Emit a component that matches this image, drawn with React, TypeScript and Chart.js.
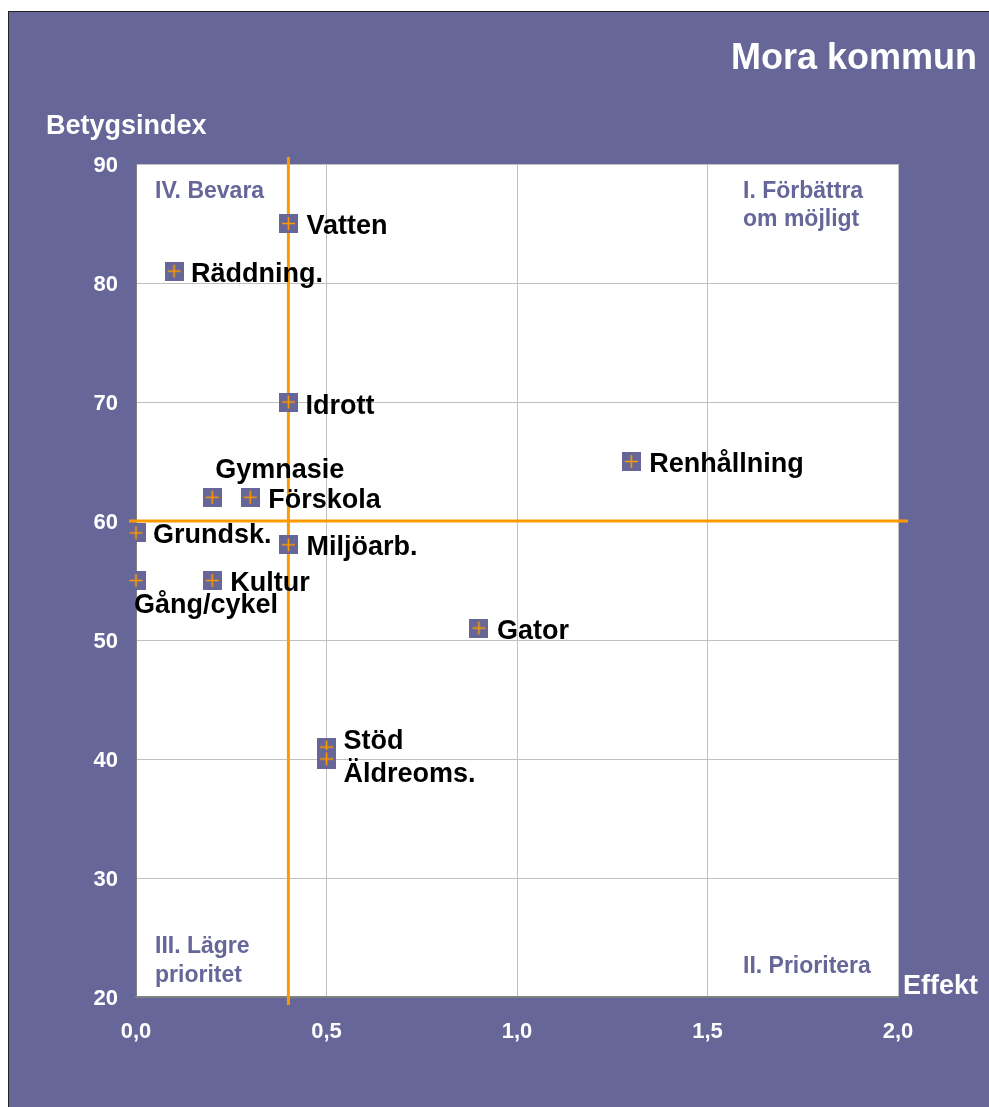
import React, { useEffect, useRef } from "react";
import { Chart, registerables } from "chart.js";

Chart.register(...registerables);

// ---- Data ----
const serviceLabels = [
  "Vatten",
  "Räddning.",
  "Idrott",
  "Renhållning",
  "Gymnasie",
  "Förskola",
  "Grundsk.",
  "Miljöarb.",
  "Kultur",
  "Gång/cykel",
  "Gator",
  "Stöd",
  "Äldreoms.",
];
const effekt = [0.4, 0.1, 0.4, 1.3, 0.2, 0.3, 0.0, 0.4, 0.2, 0.0, 0.9, 0.5, 0.5];
const betygsindex = [85, 81, 70, 65, 62, 62, 59, 58, 55, 55, 51, 41, 40];

const xMin = 0;
const xMax = 2;
const xStep = 0.5;
const yMin = 20;
const yMax = 90;
const yStep = 10;

// quadrant divider lines (mean values)
const dividerEffekt = 0.4;
const dividerBetyg = 60;

const chartTitle = "Mora kommun";
const yAxisTitle = "Betygsindex";
const xAxisTitle = "Effekt";
const quadrantLabels = {
  q1: ["I. Förbättra", "om möjligt"],
  q2: ["II. Prioritera"],
  q3: ["III. Lägre", "prioritet"],
  q4: ["IV. Bevara"],
};

// label placement (px offsets of label start / cap-centre from the point)
const labelOffsets: [number, number][] = [
  [18, 0],
  [17, 0],
  [17, 1],
  [18, 0],
  [3, -30],
  [18, 0],
  [17, 0],
  [18, 0],
  [18, 0],
  [-2, 22],
  [18, 0],
  [17, -9],
  [17, 12],
];

const PURPLE = "#666699";
const ORANGE = "#FF9900";
const FONT = "Arial, 'Liberation Sans', Helvetica, sans-serif";

function makeMarker(): HTMLCanvasElement {
  const c = document.createElement("canvas");
  c.width = 19;
  c.height = 19;
  const g = c.getContext("2d")!;
  g.fillStyle = PURPLE;
  g.fillRect(0, 0, 19, 19);
  g.strokeStyle = ORANGE;
  g.lineWidth = 1.6;
  g.beginPath();
  g.moveTo(3, 9.5);
  g.lineTo(16, 9.5);
  g.moveTo(9.5, 3);
  g.lineTo(9.5, 16);
  g.stroke();
  return c;
}

export default function App() {
  const ref = useRef<HTMLCanvasElement>(null);

  useEffect(() => {
    if (!ref.current) return;
    const marker = makeMarker();

    const decorPlugin = {
      id: "decor",
      beforeDraw(chart: any) {
        const { ctx, chartArea: a } = chart;
        ctx.save();
        ctx.fillStyle = "#FFFFFF";
        ctx.fillRect(a.left, a.top, a.right - a.left, a.bottom - a.top);
        ctx.restore();
      },
      beforeDatasetsDraw(chart: any) {
        const { ctx, chartArea: a, scales } = chart;
        const px = scales.x.getPixelForValue(dividerEffekt);
        const py = scales.y.getPixelForValue(dividerBetyg);
        ctx.save();
        ctx.strokeStyle = ORANGE;
        ctx.lineWidth = 3;
        ctx.beginPath();
        ctx.moveTo(px, a.top - 7);
        ctx.lineTo(px, a.bottom + 8);
        ctx.moveTo(a.left - 7, py);
        ctx.lineTo(a.right + 10, py);
        ctx.stroke();

        // quadrant labels
        ctx.fillStyle = PURPLE;
        ctx.font = `bold 23px ${FONT}`;
        ctx.textAlign = "left";
        ctx.textBaseline = "alphabetic";
        ctx.fillText(quadrantLabels.q4[0], a.left + 19, a.top + 34);
        quadrantLabels.q1.forEach((t, i) => ctx.fillText(t, a.right - 155, a.top + 34 + i * 28));
        quadrantLabels.q3.forEach((t, i) => ctx.fillText(t, a.left + 19, a.bottom - 44 + i * 29));
        ctx.fillText(quadrantLabels.q2[0], a.right - 155, a.bottom - 24);
        ctx.restore();
      },
      afterDatasetsDraw(chart: any) {
        const { ctx, chartArea: a, width } = chart;
        const meta = chart.getDatasetMeta(0);
        ctx.save();
        ctx.fillStyle = "#000000";
        ctx.font = `bold 27px ${FONT}`;
        ctx.textAlign = "left";
        ctx.textBaseline = "alphabetic";
        meta.data.forEach((pt: any, i: number) => {
          const [dx, dy] = labelOffsets[i];
          ctx.fillText(serviceLabels[i], pt.x + dx, pt.y + dy + 10.5);
        });

        ctx.fillStyle = "#FFFFFF";
        ctx.font = `bold 36px ${FONT}`;
        ctx.textAlign = "right";
        ctx.fillText(chartTitle, width - 12, 57);

        ctx.font = `bold 27px ${FONT}`;
        ctx.textAlign = "left";
        ctx.fillText(yAxisTitle, a.left - 90, a.top - 30);

        ctx.font = `bold 27px ${FONT}`;
        ctx.fillText(xAxisTitle, a.right + 5, a.bottom - 3);
        ctx.restore();
      },
    };

    const chart = new Chart(ref.current, {
      type: "scatter",
      data: {
        datasets: [
          {
            label: "Tjänster",
            data: effekt.map((x, i) => ({ x, y: betygsindex[i] })),
            pointStyle: marker as any,
            pointRadius: 10,
            backgroundColor: PURPLE,
            borderColor: ORANGE,
            clip: false as any,
          },
        ],
      },
      options: {
        animation: false,
        responsive: false,
        devicePixelRatio: 1,
        layout: { padding: { top: 152, right: 91, bottom: 50, left: 0 } },
        plugins: {
          legend: { display: false },
          tooltip: { enabled: false },
        },
        scales: {
          x: {
            type: "linear",
            min: xMin,
            max: xMax,
            afterFit: (s: any) => {
              s.height = 60;
            },
            ticks: {
              stepSize: xStep,
              color: "#FFFFFF",
              font: { family: FONT, size: 22, weight: "bold" },
              padding: 22,
              callback: (v: any) => Number(v).toFixed(1).replace(".", ","),
            },
            grid: { color: "#C0C0C0", lineWidth: 1, drawTicks: false },
            border: { color: "#808080", width: 2 },
          },
          y: {
            type: "linear",
            min: yMin,
            max: yMax,
            afterFit: (s: any) => {
              s.width = 127;
            },
            ticks: {
              stepSize: yStep,
              color: "#FFFFFF",
              font: { family: FONT, size: 22, weight: "bold" },
              padding: 18,
              labelOffset: 2,
            },
            grid: { color: "#C0C0C0", lineWidth: 1, drawTicks: false },
            border: { color: "#808080", width: 1 },
          },
        },
      },
      plugins: [decorPlugin],
    });

    return () => chart.destroy();
  }, []);

  return (
    <div
      style={{
        position: "absolute",
        left: 8,
        top: 11,
        width: 981,
        height: 1096,
        boxSizing: "border-box",
        borderLeft: "1px solid #222",
        borderTop: "1px solid #222",
        background: PURPLE,
        overflow: "hidden",
      }}
    >
      <canvas ref={ref} width={980} height={1095} style={{ display: "block" }} />
    </div>
  );
}
